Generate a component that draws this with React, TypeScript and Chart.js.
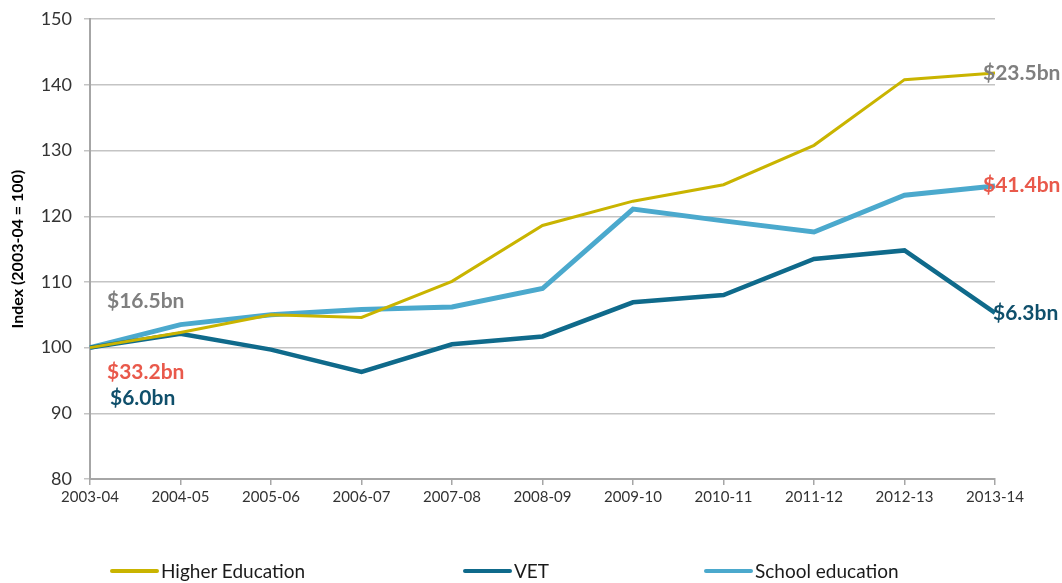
import React, { useEffect, useRef } from "react";
import { Chart, registerables } from "chart.js";

Chart.register(...registerables);

const categories = ["2003-04", "2004-05", "2005-06", "2006-07", "2007-08", "2008-09", "2009-10", "2010-11", "2011-12", "2012-13", "2013-14"];
const higherEducation = [100, 102.3, 105, 104.6, 110.1, 118.6, 122.3, 124.8, 130.8, 140.8, 141.8];
const vet = [100, 102.1, 99.7, 96.3, 100.5, 101.7, 106.9, 108, 113.5, 114.8, 105.3];
const schoolEducation = [100, 103.5, 105, 105.8, 106.2, 109, 121.1, 119.3, 117.6, 123.2, 124.6];

const seriesNames = ["Higher Education", "VET", "School education"];
const seriesColors = ["#C9B400", "#0F6A8B", "#4BA9CD"];
const seriesWidths = [3, 4.5, 5];

// annotation labels: text, colour, category index, value, side
const noteTexts = ["$16.5bn", "$33.2bn", "$6.0bn", "$23.5bn", "$41.4bn", "$6.3bn"];
const noteColors = ["#7F7F7F", "#E9594B", "#0F4F6B", "#7F7F7F", "#E9594B", "#0F4F6B"];
const noteIndex = [0, 0, 0, 10, 10, 10];
const noteValues = [107.1, 96.2, 92.3, 141.8, 124.7, 105.3];
const noteOffsets = [17, 17, 20, -12, -12, -2];

const FONT = "Lato, 'Open Sans', sans-serif";

const notesPlugin = {
  id: "notes",
  afterDatasetsDraw(chart: any) {
    const ctx = chart.ctx;
    const xs = chart.scales.x;
    const ys = chart.scales.y;
    ctx.save();
    ctx.font = `bold 21px ${FONT}`;
    ctx.textBaseline = "middle";
    ctx.textAlign = "left";
    noteTexts.forEach((t, i) => {
      ctx.fillStyle = noteColors[i];
      ctx.fillText(t, xs.getPixelForValue(noteIndex[i]) + noteOffsets[i], ys.getPixelForValue(noteValues[i]));
    });
    ctx.restore();
  },
};

export default function App() {
  const ref = useRef<HTMLCanvasElement>(null);
  useEffect(() => {
    const data = [higherEducation, vet, schoolEducation];
    const chart = new Chart(ref.current!, {
      type: "line",
      data: {
        labels: categories,
        datasets: seriesNames.map((n, i) => ({
          label: n,
          data: data[i],
          borderColor: seriesColors[i],
          backgroundColor: seriesColors[i],
          borderWidth: seriesWidths[i],
          pointRadius: 0,
          tension: 0,
          fill: false,
        })),
      },
      options: {
        animation: false,
        responsive: true,
        maintainAspectRatio: false,
        layout: { padding: { left: 0, right: 67, top: 17, bottom: 74 } },
        plugins: { legend: { display: false }, tooltip: { enabled: false } },
        scales: {
          x: {
            offset: false,
            afterFit: (s: any) => { s.height = 30; },
            grid: { display: true, drawOnChartArea: false, tickLength: 6, color: "#A6A6A6", lineWidth: 1.5 },
            border: { display: true, color: "#A6A6A6", width: 2 },
            ticks: { color: "#333333", font: { family: FONT, size: 15 }, padding: 3, maxRotation: 0, autoSkip: false },
          },
          y: {
            min: 80,
            max: 150,
            afterFit: (s: any) => { s.width = 90; },
            ticks: { stepSize: 10, color: "#333333", font: { family: FONT, size: 18, lineHeight: 0.8 }, padding: 12 },
            grid: { color: "#C4C4C4", lineWidth: 1.5, tickLength: 6 },
            border: { display: true, color: "#A6A6A6", width: 2 },
            title: {
              display: true,
              text: "Index (2003-04 = 100)",
              color: "#000000",
              font: { family: FONT, size: 16, weight: "bold" },
              padding: { top: 8, bottom: 0 },
            },
          },
        },
      },
      plugins: [notesPlugin],
    });
    return () => chart.destroy();
  }, []);

  const legendLeft = [110, 463, 704];
  return (
    <div style={{ position: "fixed", left: 0, top: 0, width: 1062, height: 583, background: "#fff" }}>
      <canvas ref={ref} />
      {seriesNames.map((n, i) => (
        <div
          key={n}
          style={{
            position: "absolute",
            left: legendLeft[i],
            top: 561,
            display: "flex",
            alignItems: "center",
            fontFamily: FONT,
            fontSize: 19,
            color: "#1A1A1A",
            lineHeight: "20px",
          }}
        >
          <span style={{ display: "inline-block", width: 49, height: 4, background: seriesColors[i], borderRadius: 2, marginRight: 2 }} />
          {n}
        </div>
      ))}
    </div>
  );
}
